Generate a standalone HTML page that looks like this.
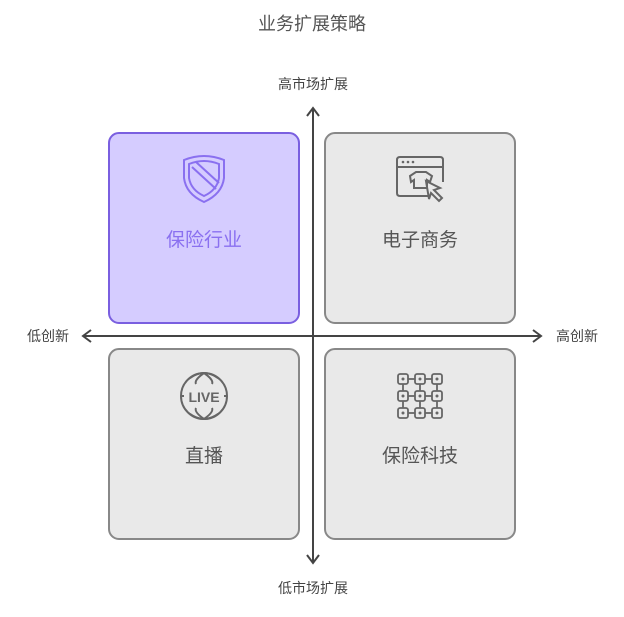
<!DOCTYPE html>
<html><head><meta charset="utf-8"><style>
html,body{margin:0;padding:0;background:#fff;}
body{width:624px;height:612px;overflow:hidden;font-family:"Liberation Sans","Noto Sans CJK SC",sans-serif;}
</style></head><body>
<svg width="624" height="612" viewBox="0 0 624 612" xmlns="http://www.w3.org/2000/svg" font-family="Liberation Sans, Noto Sans CJK SC, sans-serif">
<text x="312" y="30" text-anchor="middle" font-size="18" fill="#555">业务扩展策略</text>
<rect x="109" y="133" width="190" height="190" rx="10" fill="#d5ccff" stroke="#7a5fe0" stroke-width="2"/>
<rect x="325" y="133" width="190" height="190" rx="10" fill="#e9e9e9" stroke="#888" stroke-width="2"/>
<rect x="109" y="349" width="190" height="190" rx="10" fill="#e9e9e9" stroke="#888" stroke-width="2"/>
<rect x="325" y="349" width="190" height="190" rx="10" fill="#e9e9e9" stroke="#888" stroke-width="2"/>
<g stroke="#444" stroke-width="2" fill="none">
<line x1="313" y1="108" x2="313" y2="563"/>
<polyline points="307,116 313,108 319,116"/>
<polyline points="307,555 313,563 319,555"/>
<line x1="83" y1="336" x2="541" y2="336"/>
<polyline points="91,330 83,336 91,342"/>
<polyline points="533,330 541,336 533,342"/>
</g>
<g font-size="14" fill="#444">
<text x="313" y="89" text-anchor="middle">高市场扩展</text>
<text x="313" y="593" text-anchor="middle">低市场扩展</text>
<text x="48" y="341" text-anchor="middle">低创新</text>
<text x="577" y="341" text-anchor="middle">高创新</text>
</g>
<g font-size="19" text-anchor="middle">
<text x="204" y="246" fill="#8a70f0">保险行业</text>
<text x="420" y="246" fill="#555">电子商务</text>
<text x="204" y="462" fill="#555">直播</text>
<text x="420" y="462" fill="#555">保险科技</text>
</g>
<!-- shield -->
<g stroke="#8a70f0" stroke-width="2" fill="none">
<path d="M184,160 Q204,152 224,160 L224,178 Q222,194 204,202 Q186,194 184,178 Z"/>
<path d="M189,164 Q204,158 219,164 L219,178 Q217,190 204,196 Q191,190 189,178 Z"/>
<line x1="192" y1="167" x2="216" y2="189"/>
<line x1="196" y1="162" x2="219" y2="183"/>
</g>
<!-- ecommerce -->
<g stroke="#666" stroke-width="2" fill="none">
<path d="M430,196 L400,196 Q397,196 397,193 L397,160 Q397,157 400,157 L440,157 Q443,157 443,160 L443,182"/>
<line x1="397" y1="167" x2="443" y2="167"/>
<path d="M410,176 L416,172 L426,172 L432,176 L430,182 L427,180 L427,188 L414,188 L414,180 L411,182 Z"/>
<path d="M426,181 L440,188 L434,190 L442,198 L439,201 L431,193 L429,199 Z"/>
</g>
<g fill="#666"><circle cx="403" cy="162" r="1.3"/><circle cx="408" cy="162" r="1.3"/><circle cx="413" cy="162" r="1.3"/></g>
<!-- live -->
<g stroke="#666" stroke-width="2" fill="none">
<circle cx="204" cy="396" r="23"/>
<path d="M190,378 Q204,368 218,378"/><path d="M190,414 Q204,424 218,414"/>
<path d="M204,373 Q194,380 196,384"/><path d="M204,373 Q214,380 212,384"/>
<path d="M196,408 Q194,412 204,419"/><path d="M212,408 Q214,412 204,419"/>
<line x1="181" y1="396" x2="184" y2="396"/><line x1="224" y1="396" x2="227" y2="396"/>
</g>
<text x="204" y="402" text-anchor="middle" font-size="14" font-weight="bold" fill="#666">LIVE</text>
<!-- grid -->
<g stroke="#666" stroke-width="1.8" fill="none">
<rect x="398" y="374" width="10" height="10" rx="2"/><rect x="415" y="374" width="10" height="10" rx="2"/><rect x="432" y="374" width="10" height="10" rx="2"/>
<rect x="398" y="391" width="10" height="10" rx="2"/><rect x="415" y="391" width="10" height="10" rx="2"/><rect x="432" y="391" width="10" height="10" rx="2"/>
<rect x="398" y="408" width="10" height="10" rx="2"/><rect x="415" y="408" width="10" height="10" rx="2"/><rect x="432" y="408" width="10" height="10" rx="2"/>
<line x1="408" y1="379" x2="415" y2="379"/><line x1="425" y1="379" x2="432" y2="379"/>
<line x1="408" y1="396" x2="415" y2="396"/><line x1="425" y1="396" x2="432" y2="396"/>
<line x1="408" y1="413" x2="415" y2="413"/><line x1="425" y1="413" x2="432" y2="413"/>
<line x1="403" y1="384" x2="403" y2="391"/><line x1="420" y1="384" x2="420" y2="391"/><line x1="437" y1="384" x2="437" y2="391"/>
<line x1="403" y1="401" x2="403" y2="408"/><line x1="420" y1="401" x2="420" y2="408"/><line x1="437" y1="401" x2="437" y2="408"/>
</g>
<g fill="#666">
<circle cx="403" cy="379" r="1.5"/><circle cx="420" cy="379" r="1.5"/><circle cx="437" cy="379" r="1.5"/>
<circle cx="403" cy="396" r="1.5"/><circle cx="420" cy="396" r="1.5"/><circle cx="437" cy="396" r="1.5"/>
<circle cx="403" cy="413" r="1.5"/><circle cx="420" cy="413" r="1.5"/><circle cx="437" cy="413" r="1.5"/>
</g>
</svg>
</body></html>
